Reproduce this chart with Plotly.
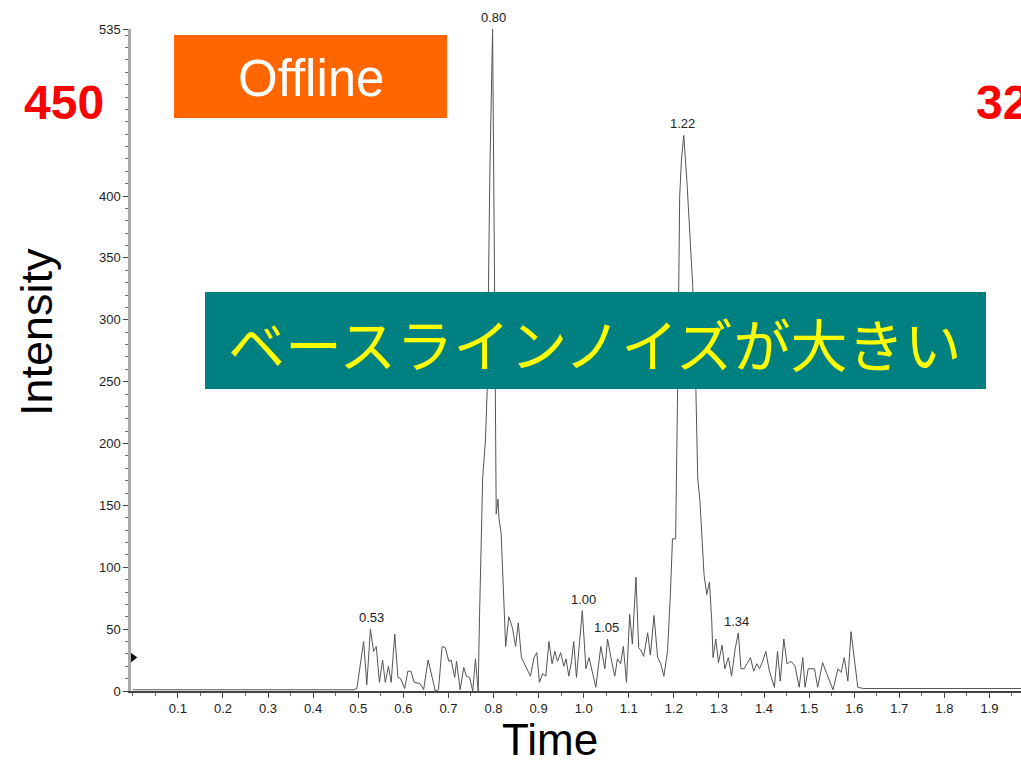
import plotly.graph_objects as go

# Chromatogram data (time in min, intensity)
time = [0.000, 0.490, 0.497, 0.512, 0.519, 0.527, 0.534, 0.540, 0.547, 0.554,
        0.560, 0.567, 0.573, 0.581, 0.588, 0.594, 0.603, 0.610, 0.617, 0.624,
        0.637, 0.645, 0.655, 0.665, 0.671, 0.678, 0.686, 0.693, 0.701, 0.706,
        0.714, 0.718, 0.726, 0.734, 0.740, 0.747, 0.754, 0.760, 0.766, 0.769,
        0.773, 0.776, 0.782, 0.786, 0.792, 0.798, 0.803, 0.806, 0.810, 0.812,
        0.817, 0.827, 0.834, 0.842, 0.849, 0.855, 0.862, 0.871, 0.882, 0.890,
        0.896, 0.902, 0.909, 0.916, 0.923, 0.930, 0.936, 0.942, 0.949, 0.956,
        0.961, 0.967, 0.973, 0.978, 0.984, 0.991, 0.997, 1.005, 1.012, 1.027,
        1.038, 1.047, 1.053, 1.062, 1.069, 1.075, 1.082, 1.088, 1.095, 1.102,
        1.108, 1.116, 1.122, 1.127, 1.133, 1.142, 1.148, 1.156, 1.164, 1.171,
        1.178, 1.186, 1.192, 1.197, 1.204, 1.209, 1.213, 1.217, 1.222, 1.229,
        1.238, 1.242, 1.249, 1.253, 1.258, 1.267, 1.273, 1.279, 1.284, 1.287,
        1.293, 1.299, 1.307, 1.313, 1.321, 1.328, 1.336, 1.343, 1.349, 1.356,
        1.362, 1.370, 1.377, 1.384, 1.390, 1.397, 1.404, 1.412, 1.423, 1.430,
        1.436, 1.444, 1.451, 1.460, 1.469, 1.478, 1.486, 1.491, 1.498, 1.512,
        1.519, 1.530, 1.538, 1.553, 1.564, 1.571, 1.578, 1.586, 1.593, 1.601,
        1.608, 1.620, 1.970]
intensity = [1, 1, 2, 40, 5, 50, 32, 36, 7, 25,
             7, 20, 7, 46, 11, 10, 2, 16, 16, 7,
             6, 1, 25, 8, 0, 1, 36, 35, 24, 25,
             11, 24, 1, 19, 12, 11, 0, 26, 0, 60,
             121, 172, 202, 242, 420, 535, 300, 143, 155, 140,
             127, 36, 60, 51, 36, 55, 27, 20, 12, 27,
             31, 7, 14, 12, 40, 22, 32, 24, 31, 20,
             26, 12, 24, 40, 11, 40, 65, 18, 27, 3,
             36, 18, 42, 24, 12, 26, 22, 36, 7, 62,
             38, 92, 35, 33, 28, 47, 29, 61, 27, 22,
             12, 32, 75, 123, 123, 260, 400, 430, 449, 412,
             347, 327, 242, 172, 153, 94, 78, 88, 57, 27,
             42, 23, 37, 18, 27, 12, 34, 47, 18, 18,
             22, 27, 16, 22, 18, 24, 32, 16, 3, 32,
             8, 42, 22, 24, 20, 3, 27, 3, 18, 18,
             3, 23, 15, 1, 18, 15, 27, 8, 48, 22,
             3, 2, 2]

peak_times = [0.53, 0.80, 1.00, 1.05, 1.22, 1.34]
peak_heights = [50, 535, 65, 42, 449, 47]
peak_labels = ["0.53", "0.80", "1.00", "1.05", "1.22", "1.34"]

ytick_vals = [0, 50, 100, 150, 200, 250, 300, 350, 400, 535]
ytick_text = ["0", "50", "100", "150", "200", "250", "300", "350", "400", "535"]
xtick_vals = [0.1, 0.2, 0.3, 0.4, 0.5, 0.6, 0.7, 0.8, 0.9, 1.0,
              1.1, 1.2, 1.3, 1.4, 1.5, 1.6, 1.7, 1.8, 1.9]
xtick_text = ["0.1", "0.2", "0.3", "0.4", "0.5", "0.6", "0.7", "0.8", "0.9", "1.0",
              "1.1", "1.2", "1.3", "1.4", "1.5", "1.6", "1.7", "1.8", "1.9"]

tick_font = dict(family="Liberation Sans Narrow, Arial Narrow, Liberation Sans, Arial", size=13, color="#222")

W, H = 1021, 760
L, R, T, B = 131, 0, 29, 69
pw, ph = W - L - R, H - T - B


def px(xp):
    return (xp - L) / pw


def py(yp):
    return (H - B - yp) / ph


fig = go.Figure()
fig.add_trace(go.Scatter(x=time, y=intensity, mode="lines",
                         line=dict(color="#555555", width=1), hoverinfo="skip",
                         cliponaxis=False, showlegend=False))
# small marker on the axis
fig.add_trace(go.Scatter(x=[0.0], y=[27], mode="markers",
                         marker=dict(symbol="triangle-right", size=9, color="#111"),
                         cliponaxis=False, showlegend=False, hoverinfo="skip"))

for t, h, lab in zip(peak_times, peak_heights, peak_labels):
    fig.add_annotation(x=t, y=h, text=lab, showarrow=False, yanchor="bottom",
                       xanchor="center", yshift=2, font=tick_font)

fig.update_layout(
    width=W, height=H,
    margin=dict(l=L, r=R, t=T, b=B),
    paper_bgcolor="white", plot_bgcolor="white",
    xaxis=dict(range=[-0.004, 1.97], tickvals=xtick_vals, ticktext=xtick_text,
               showgrid=False, zeroline=False, showline=True, linecolor="#444",
               linewidth=1.5, ticks="outside", ticklen=5, tickcolor="#444",
               tickfont=tick_font,
               minor=dict(dtick=0.05, tick0=0, ticks="outside", ticklen=3, tickcolor="#666")),
    yaxis=dict(range=[0, 535], tickvals=ytick_vals, ticktext=ytick_text,
               showgrid=False, zeroline=False, showline=True, linecolor="#aaaaaa",
               linewidth=2.5, ticks="outside", ticklen=5, tickcolor="#444",
               tickfont=tick_font,
               minor=dict(dtick=10, tick0=0, ticks="outside", ticklen=3, tickcolor="#666")),
)


def note(xp, yp, text, font, **kw):
    kw.setdefault("xanchor", "center")
    fig.add_annotation(x=px(xp), y=py(yp), xref="paper", yref="paper", text=text,
                       showarrow=False, yanchor="middle", font=font, **kw)


note(550, 740, "Time", dict(family="Liberation Sans, Arial", size=44, color="black"))
note(36, 332, "Intensity", dict(family="Liberation Sans, Arial", size=45, color="black"),
     textangle=-90)

# Offline box
fig.add_shape(type="rect", xref="paper", yref="paper", x0=px(174), x1=px(447),
              y0=py(118), y1=py(35), fillcolor="#FF6600", line=dict(width=0))
note(311, 78, "Offline", dict(family="Liberation Sans, Arial", size=51, color="white"))

# red labels
red = dict(family="Liberation Sans, Arial", size=48, color="#FF0000")
note(64, 102, "<b>450</b>", red)
note(974, 102, "<b>32</b>", red, xanchor="left")

# teal box
fig.add_shape(type="rect", xref="paper", yref="paper", x0=px(205), x1=px(986),
              y0=py(389), y1=py(292), fillcolor="#008080", line=dict(width=0))
note(595, 342, "ベースラインノイズが大きい",
     dict(family="Noto Sans CJK JP", size=57, color="#FFFF00"))

fig.write_html("out.html", config={"displayModeBar": False},
               post_script="document.body.style.margin='0';document.body.style.overflow='hidden';")
